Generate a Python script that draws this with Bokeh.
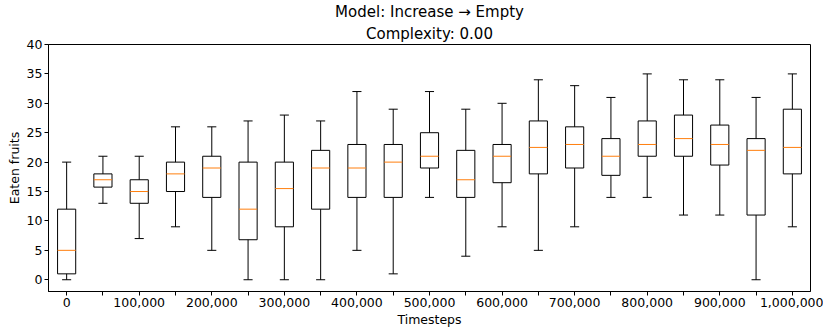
from bokeh.plotting import figure
from bokeh.models import FixedTicker, Range1d, Title
from bokeh.embed import file_html
from bokeh.resources import INLINE

# ---- data ----
timesteps = [0, 50000, 100000, 150000, 200000, 250000, 300000, 350000, 400000, 450000,
             500000, 550000, 600000, 650000, 700000, 750000, 800000, 850000, 900000,
             950000, 1000000]
whisker_low = [0, 13, 7, 9, 5, 0, 0, 0, 5, 1, 14, 4, 9, 5, 9, 14, 14, 11, 11, 0, 9]
q1 = [1, 15.75, 13, 15, 14, 6.8, 9, 12, 14, 14, 19, 14, 16.5, 18, 19, 17.75, 21, 21, 19.5, 11, 18]
median = [5, 17, 15, 18, 19, 12, 15.5, 19, 19, 20, 21, 17, 21, 22.5, 23, 21, 23, 24, 23, 22, 22.5]
q3 = [12, 18, 17, 20, 21, 20, 20, 22, 23, 23, 25, 22, 23, 27, 26, 24, 27, 28, 26.3, 24, 29]
whisker_high = [20, 21, 21, 26, 26, 27, 28, 27, 32, 29, 32, 29, 30, 34, 33, 31, 35, 34, 34, 31, 35]

x_tick_values = [0, 100000, 200000, 300000, 400000, 500000, 600000, 700000, 800000, 900000, 1000000]
x_tick_labels = ["0", "100,000", "200,000", "300,000", "400,000", "500,000", "600,000",
                 "700,000", "800,000", "900,000", "1,000,000"]
x_minor_ticks = [50000, 150000, 250000, 350000, 450000, 550000, 650000, 750000, 850000, 950000]
y_ticks = [0, 5, 10, 15, 20, 25, 30, 35, 40]

title_line1 = "Model: Increase \u2192 Empty"
title_line2 = "Complexity: 0.00"
x_label = "Timesteps"
y_label = "Eaten fruits"

box_width = 25000
cap_width = 12500

FONT = "DejaVu Sans"

p = figure(width=823, height=329, output_backend="svg", toolbar_location=None,
           x_range=Range1d(-25000, 1025000), y_range=Range1d(-2, 40),
           min_border_left=48, min_border_right=13, min_border_top=44, min_border_bottom=38)
p.title.visible = False

p.add_layout(Title(text=title_line2, align="center", text_font=FONT, text_font_size="15px",
                   text_font_style="normal", text_color="black", standoff=4, offset=0), "above")
p.add_layout(Title(text=title_line1, align="center", text_font=FONT, text_font_size="15px",
                   text_font_style="normal", text_color="black", standoff=0, offset=0), "above")

xs = timesteps
left = [x - box_width / 2 for x in xs]
right = [x + box_width / 2 for x in xs]
cap_l = [x - cap_width / 2 for x in xs]
cap_r = [x + cap_width / 2 for x in xs]

# whiskers
p.segment(x0=xs, y0=q3, x1=xs, y1=whisker_high, line_color="black", line_width=1)
p.segment(x0=xs, y0=q1, x1=xs, y1=whisker_low, line_color="black", line_width=1)
# caps
p.segment(x0=cap_l, y0=whisker_high, x1=cap_r, y1=whisker_high, line_color="black", line_width=1)
p.segment(x0=cap_l, y0=whisker_low, x1=cap_r, y1=whisker_low, line_color="black", line_width=1)
# boxes
p.quad(left=left, right=right, bottom=q1, top=q3, fill_alpha=0, line_color="black", line_width=1)
# medians
p.segment(x0=left, y0=median, x1=right, y1=median, line_color="#ff7f0e", line_width=1)

p.xgrid.visible = False
p.ygrid.visible = False
p.outline_line_color = "black"
p.outline_line_width = 1
p.outline_line_alpha = 1

p.xaxis.ticker = FixedTicker(ticks=x_tick_values, minor_ticks=x_minor_ticks)
p.xaxis.major_label_overrides = {v: l for v, l in zip(x_tick_values, x_tick_labels)}
p.yaxis.ticker = FixedTicker(ticks=y_ticks)

for ax in (p.xaxis[0], p.yaxis[0]):
    ax.axis_line_color = "black"
    ax.major_tick_in = 0
    ax.major_tick_out = 4
    ax.major_tick_line_color = "black"
    ax.major_label_text_font = FONT
    ax.major_label_text_font_size = "12.5px"
    ax.major_label_text_color = "black"
    ax.axis_label_text_font = FONT
    ax.axis_label_text_font_size = "12.5px"
    ax.axis_label_text_font_style = "normal"
    ax.axis_label_text_color = "black"
    ax.major_label_standoff = 2
    ax.axis_label_standoff = 2

p.xaxis.minor_tick_in = 0
p.xaxis.minor_tick_out = 4
p.xaxis.minor_tick_line_color = "black"
p.yaxis.minor_tick_line_color = None
p.xaxis.axis_label = x_label
p.yaxis.axis_label = y_label

open("out.html", "w").write(file_html(p, INLINE))
